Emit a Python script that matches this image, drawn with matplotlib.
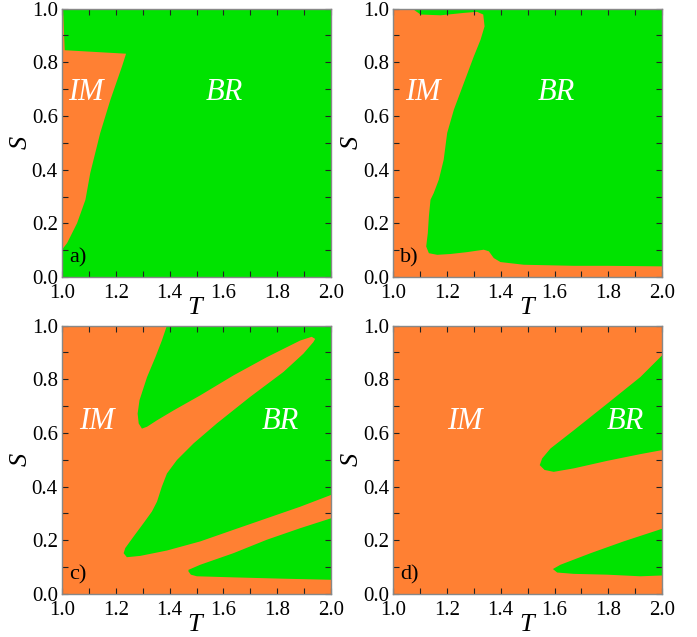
import matplotlib
matplotlib.use('Agg')
import matplotlib.pyplot as plt
from matplotlib.ticker import MultipleLocator, FormatStrFormatter

plt.rcParams['font.family'] = ['Liberation Serif', 'DejaVu Serif']
plt.rcParams['mathtext.fontset'] = 'custom'
plt.rcParams['mathtext.it'] = 'Liberation Serif:italic'

orange = '#ff8033'
green = '#00e300'

# 各面板的区域边界 (T, S)
# a) 橙色 IM 区域，背景为绿色
a_im_T = [1.0, 1.004, 1.01, 1.238, 1.223, 1.18, 1.142, 1.105, 1.087, 1.056, 1.019, 1.0]
a_im_S = [1.0, 1.0, 0.845, 0.832, 0.785, 0.661, 0.537, 0.388, 0.288, 0.201, 0.127, 0.102]

# b) 绿色 BR 区域，背景为橙色
b_br_T = [1.071, 2.0, 2.0, 1.796, 1.672, 1.486, 1.399, 1.374, 1.356, 1.337, 1.275, 1.213,
          1.164, 1.133, 1.123, 1.129, 1.133, 1.139, 1.151, 1.170, 1.188, 1.201, 1.226,
          1.263, 1.300, 1.325, 1.340, 1.335, 1.312, 1.263, 1.176, 1.102]
b_br_S = [1.0, 1.0, 0.040, 0.042, 0.042, 0.046, 0.056, 0.071, 0.096, 0.102, 0.093, 0.086,
          0.083, 0.089, 0.114, 0.164, 0.226, 0.288, 0.313, 0.363, 0.437, 0.537, 0.624,
          0.723, 0.822, 0.884, 0.934, 0.978, 0.988, 0.984, 0.975, 0.978]

# c) 两块绿色 BR 区域
c_br1_T = [1.390, 2.0, 2.0, 1.885, 1.761, 1.637, 1.514, 1.390, 1.291, 1.241, 1.229, 1.235,
           1.266, 1.303, 1.334, 1.353, 1.371, 1.390, 1.427, 1.489, 1.575, 1.699, 1.823,
           1.897, 1.934, 1.941, 1.928, 1.885, 1.761, 1.637, 1.514, 1.415, 1.353, 1.316,
           1.297, 1.285, 1.281, 1.288, 1.316, 1.347, 1.371]
c_br1_S = [1.0, 1.0, 0.369, 0.325, 0.282, 0.239, 0.196, 0.162, 0.142, 0.137, 0.152, 0.171,
           0.214, 0.264, 0.307, 0.344, 0.400, 0.449, 0.499, 0.561, 0.635, 0.734, 0.827,
           0.895, 0.938, 0.950, 0.958, 0.944, 0.882, 0.814, 0.740, 0.684, 0.647, 0.623,
           0.616, 0.635, 0.672, 0.722, 0.808, 0.882, 0.944]
c_br2_T = [1.470, 1.514, 1.637, 1.761, 1.885, 2.0, 2.0, 1.823, 1.637, 1.501, 1.479, 1.470]
c_br2_S = [0.090, 0.109, 0.152, 0.202, 0.245, 0.282, 0.053, 0.057, 0.062, 0.066, 0.072, 0.084]

# d) 两块绿色 BR 区域
d_br1_T = [1.545, 1.554, 1.585, 1.672, 1.796, 1.919, 2.0, 2.0, 1.919, 1.796, 1.672, 1.597, 1.563]
d_br1_S = [0.480, 0.505, 0.542, 0.610, 0.709, 0.808, 0.889, 0.536, 0.521, 0.496, 0.468, 0.455, 0.462]
d_br2_T = [1.594, 1.622, 1.734, 1.857, 2.0, 2.0, 1.919, 1.796, 1.672, 1.610]
d_br2_S = [0.093, 0.109, 0.152, 0.196, 0.243, 0.069, 0.066, 0.072, 0.075, 0.080]

panels = [
    ('a)', green, [(a_im_T, a_im_S, orange)], (1.09, 0.686), (1.604, 0.686)),
    ('b)', orange, [(b_br_T, b_br_S, green)], (1.112, 0.686), (1.607, 0.686)),
    ('c)', orange, [(c_br1_T, c_br1_S, green), (c_br2_T, c_br2_S, green)], (1.13, 0.641), (1.81, 0.641)),
    ('d)', orange, [(d_br1_T, d_br1_S, green), (d_br2_T, d_br2_S, green)], (1.265, 0.641), (1.864, 0.641)),
]

fig = plt.figure(figsize=(6.97, 6.37), dpi=100)
lefts = [0.089, 0.564, 0.089, 0.564]
bottoms = [0.565, 0.565, 0.0675, 0.0675]

for i, (tag, bg, regions, im_pos, br_pos) in enumerate(panels):
    ax = fig.add_axes([lefts[i], bottoms[i], 0.386, 0.4215])
    ax.set_facecolor(bg)
    for T, S, col in regions:
        ax.fill(T, S, color=col, lw=0)
    ax.set_xlim(1.0, 2.0)
    ax.set_ylim(0.0, 1.0)
    ax.xaxis.set_major_locator(MultipleLocator(0.2))
    ax.xaxis.set_minor_locator(MultipleLocator(0.1))
    ax.yaxis.set_major_locator(MultipleLocator(0.2))
    ax.yaxis.set_minor_locator(MultipleLocator(0.1))
    ax.xaxis.set_major_formatter(FormatStrFormatter('%.1f'))
    ax.yaxis.set_major_formatter(FormatStrFormatter('%.1f'))
    ax.tick_params(which='both', direction='in', top=True, right=True,
                   length=4, width=0.8, color='#222222', labelsize=15)
    ax.tick_params(axis='x', pad=5)
    ax.tick_params(axis='y', pad=3)
    for sp in ax.spines.values():
        sp.set_color('#888888')
        sp.set_linewidth(1.0)
    ax.set_xlabel('$T$', fontsize=19, labelpad=-4)
    ax.set_ylabel('$S$', fontsize=19, labelpad=0)
    ax.text(im_pos[0], im_pos[1], 'IM', color='white', fontsize=22, style='italic',
            ha='center', va='center')
    ax.text(br_pos[0], br_pos[1], 'BR', color='white', fontsize=22, style='italic',
            ha='center', va='center')
    ax.text(1.025, 0.07, tag, color='black', fontsize=16, ha='left', va='center')

fig.savefig('out.png', dpi=100)
